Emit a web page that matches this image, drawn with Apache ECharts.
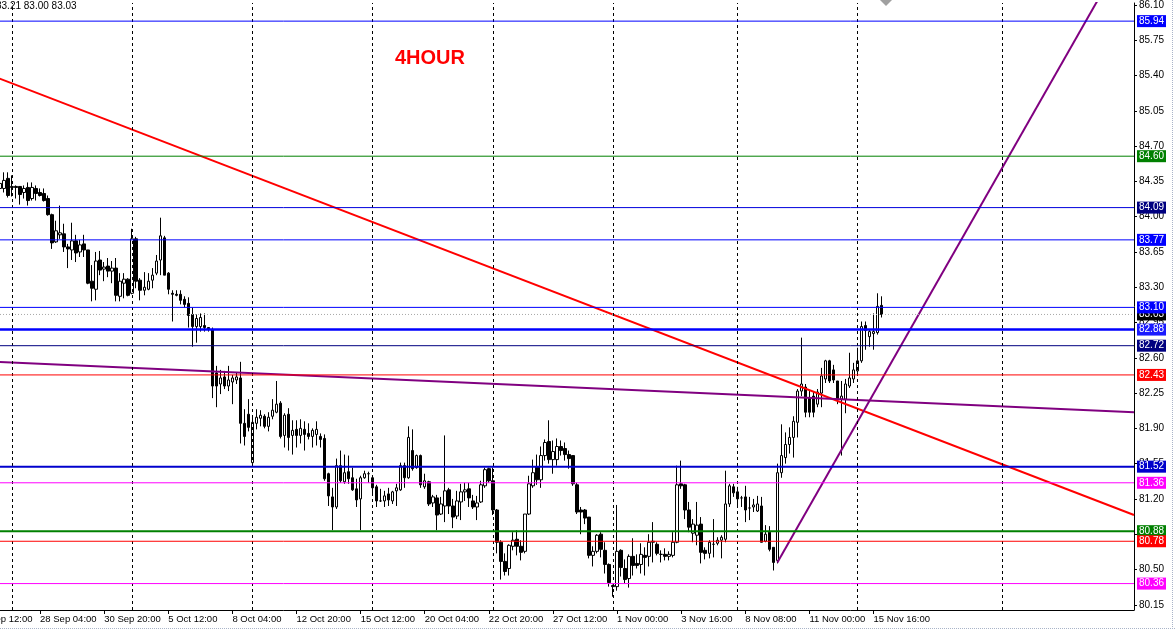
<!DOCTYPE html>
<html><head><meta charset="utf-8">
<script src="https://cdn.jsdelivr.net/npm/echarts@6/dist/echarts.min.js"></script>
<style>html,body{margin:0;padding:0;background:#fff;overflow:hidden}#c{width:1175px;height:630px}</style>
</head><body><div id="c"></div>
<script>
// ---------- data ----------
const title = '4HOUR';
const header = '83.21 83.00 83.03';
const tickLabels = ['23 Sep 12:00','28 Sep 04:00','30 Sep 20:00','5 Oct 12:00','8 Oct 04:00','12 Oct 20:00',
  '15 Oct 12:00','20 Oct 04:00','22 Oct 20:00','27 Oct 12:00','1 Nov 00:00','3 Nov 16:00','8 Nov 08:00',
  '11 Nov 00:00','15 Nov 16:00'];
const yTicks = [86.10,85.75,85.40,85.05,84.70,84.35,84.00,83.65,83.30,82.95,82.60,82.25,81.90,81.55,81.20,80.85,80.50,80.15];
const barSlots = 290;      // bar slots on the time axis (incl. empty future)
const firstBar = 6;        // slot of the first candle below (left edge of the view)
const open = [
84.28,84.28,84.38,84.29,84.30,84.30,84.24,84.29,84.18,84.28,
84.24,84.23,84.18,84.02,83.75,83.82,83.83,83.70,83.67,83.76,
83.65,83.73,83.67,83.36,83.28,83.57,83.48,83.51,83.46,83.49,
83.21,83.34,83.38,83.24,83.78,83.37,83.27,83.28,83.37,83.44,
83.57,83.79,83.44,83.24,83.23,83.23,83.18,83.14,83.03,82.91,
82.91,82.92,82.90,82.88,82.45,82.34,82.41,82.32,82.36,82.38,
82.40,81.95,82.04,81.56,81.95,82.00,82.02,81.92,82.02,82.06,
82.15,81.83,82.04,81.83,81.89,81.83,81.89,81.85,81.82,81.84,
81.82,81.80,81.45,81.22,81.12,81.53,81.37,81.47,81.41,81.30,
81.20,81.41,81.45,81.41,81.32,81.18,81.18,81.25,81.18,81.28,
81.29,81.53,81.41,81.68,81.51,81.63,81.32,81.37,81.16,81.21,
81.05,81.13,81.29,81.13,81.03,81.17,81.27,81.30,81.18,81.12,
81.17,81.33,81.50,81.38,81.09,80.77,80.58,80.51,80.73,80.80,
80.73,80.68,81.05,81.33,81.52,81.39,81.63,81.77,81.59,81.59,
81.72,81.70,81.64,81.63,81.34,81.09,81.09,81.02,80.64,80.68,
80.85,80.69,80.55,80.34,80.33,80.69,80.51,80.41,80.63,80.56,
80.55,80.64,80.63,80.77,80.75,80.65,80.65,80.63,80.64,80.77,
81.35,81.34,81.09,80.86,80.84,80.95,80.69,80.66,80.75,80.76,
80.79,80.80,81.15,81.32,81.27,81.21,81.22,81.11,81.12,81.08,
81.13,80.78,80.87,80.72,80.59,81.46,81.61,81.74,81.81,81.96,
82.27,82.31,82.20,82.22,82.14,82.25,82.39,82.57,82.48,82.37,
82.19,82.19,82.32,82.39,82.47,82.57,82.92,82.81,82.84,82.85,
83.12];
const high = [
84.49,84.44,84.44,84.41,84.31,84.30,84.31,84.34,84.34,84.31,
84.28,84.28,84.21,84.03,83.96,84.11,83.93,83.73,83.94,83.82,
83.77,83.82,83.67,83.52,83.65,83.66,83.55,83.59,83.56,83.59,
83.44,83.44,83.39,83.88,83.80,83.39,83.45,83.44,83.49,83.62,
83.99,83.81,83.45,83.27,83.27,83.27,83.21,83.20,83.10,83.03,
83.04,83.04,82.90,82.90,82.52,82.48,82.47,82.52,82.43,82.45,
82.56,82.09,82.19,82.02,82.09,82.08,82.04,82.06,82.19,82.37,
82.17,82.05,82.10,81.98,81.98,81.99,81.97,81.95,81.90,81.97,
81.85,81.84,81.46,81.31,81.60,81.68,81.64,81.63,81.51,81.40,
81.43,81.48,81.47,81.43,81.34,81.30,81.28,81.31,81.28,81.35,
81.56,81.56,81.92,81.89,81.64,81.64,81.45,81.38,81.24,81.24,
81.22,81.83,81.31,81.20,81.28,81.35,81.36,81.36,81.24,81.23,
81.38,81.51,81.51,81.51,81.10,80.79,80.66,80.75,80.87,80.89,
80.79,81.05,81.43,81.59,81.64,81.72,81.79,81.98,81.78,81.80,
81.78,81.76,81.68,81.63,81.36,81.12,81.10,81.02,80.73,80.85,
80.87,80.77,80.56,80.35,81.14,80.70,80.60,80.65,80.81,80.65,
80.76,80.72,80.85,80.97,80.77,80.69,80.71,80.68,80.87,81.53,
81.58,81.35,81.17,81.00,81.17,81.02,80.72,80.79,81.00,80.82,
80.84,81.48,81.35,81.35,81.32,81.23,81.33,81.22,81.20,81.23,
81.22,80.94,80.93,80.72,81.55,81.94,81.86,81.91,82.02,82.29,
82.80,82.34,82.27,82.26,82.29,82.50,82.58,82.58,82.53,82.37,
82.37,82.39,82.65,82.55,82.70,82.96,82.96,82.88,83.04,83.24,
83.21];
const low = [
84.12,84.24,84.19,84.20,84.18,84.12,84.18,84.11,84.16,84.16,
84.20,84.15,84.01,83.68,83.74,83.78,83.65,83.49,83.57,83.55,
83.60,83.60,83.33,83.16,83.17,83.42,83.36,83.40,83.34,83.16,
83.16,83.19,83.21,83.23,83.29,83.17,83.22,83.27,83.29,83.42,
83.42,83.42,83.23,82.96,83.21,83.13,83.10,82.90,82.71,82.75,
82.86,82.86,82.86,82.20,82.11,82.24,82.29,82.27,82.14,82.34,
81.75,81.73,81.87,81.53,81.89,81.92,81.90,81.87,81.99,82.05,
81.80,81.71,81.68,81.64,81.71,81.75,81.68,81.79,81.71,81.73,
81.71,81.38,81.13,80.89,81.10,81.36,81.35,81.35,81.28,81.12,
80.89,81.40,81.36,81.23,81.12,81.17,81.12,81.13,81.15,81.13,
81.28,81.31,81.40,81.48,81.50,81.31,81.30,81.13,81.12,80.89,
81.04,80.97,81.05,80.91,81.00,80.99,81.18,81.12,81.10,80.99,
81.16,81.31,81.36,81.04,80.66,80.40,80.44,80.44,80.69,80.64,
80.59,80.66,81.04,81.31,81.34,81.31,81.58,81.55,81.45,81.53,
81.63,81.58,81.50,81.33,81.05,80.85,80.95,80.61,80.53,80.66,
80.62,80.46,80.33,80.23,80.29,80.43,80.36,80.32,80.44,80.51,
80.46,80.44,80.53,80.57,80.64,80.57,80.59,80.59,80.62,80.76,
81.30,81.00,80.87,80.77,80.74,80.56,80.60,80.61,80.62,80.74,
80.61,80.77,81.12,81.22,81.12,81.12,80.97,80.99,81.07,81.07,
80.77,80.77,80.68,80.49,80.56,81.41,81.55,81.65,81.61,81.81,
82.22,82.01,82.01,82.01,82.11,82.11,82.35,82.35,82.35,82.14,
81.63,82.05,82.30,82.35,82.45,82.55,82.68,82.71,82.68,82.83,
83.00];
const close = [
84.33,84.36,84.21,84.30,84.29,84.22,84.28,84.16,84.29,84.23,
84.21,84.16,84.02,83.74,83.86,83.84,83.70,83.68,83.76,83.64,
83.72,83.67,83.34,83.29,83.56,83.47,83.50,83.46,83.49,83.22,
83.36,83.38,83.22,83.78,83.36,83.27,83.30,83.36,83.42,83.56,
83.81,83.42,83.28,83.23,83.22,83.17,83.13,83.02,82.91,82.99,
83.00,82.90,82.88,82.32,82.32,82.40,82.32,82.38,82.40,82.41,
81.95,81.82,81.91,81.96,82.01,82.03,81.92,82.01,82.08,82.14,
81.82,82.03,81.81,81.88,81.83,81.90,81.84,81.82,81.88,81.89,
81.79,81.40,81.23,81.12,81.53,81.38,81.46,81.40,81.29,81.19,
81.41,81.45,81.45,81.31,81.18,81.18,81.23,81.19,81.27,81.31,
81.53,81.41,81.81,81.50,81.63,81.34,81.38,81.15,81.22,81.04,
81.15,81.28,81.13,81.02,81.18,81.27,81.29,81.21,81.12,81.16,
81.34,81.49,81.38,81.09,80.77,80.58,80.48,80.74,80.79,80.73,
80.67,81.05,81.35,81.46,81.39,81.63,81.76,81.59,81.67,81.72,
81.68,81.64,81.60,81.35,81.07,81.07,81.01,80.64,80.68,80.84,
80.70,80.55,80.37,80.33,80.68,80.52,80.40,80.63,80.54,80.54,
80.65,80.62,80.77,80.78,80.66,80.65,80.63,80.65,80.77,81.34,
81.33,81.09,80.92,80.95,80.94,80.67,80.66,80.77,80.75,80.79,
80.82,81.15,81.33,81.26,81.20,81.21,81.09,81.11,81.14,81.15,
80.77,80.85,80.70,80.57,81.46,81.63,81.74,81.81,81.97,82.27,
82.34,82.06,82.06,82.06,82.26,82.42,82.57,82.37,82.38,82.19,
82.22,82.34,82.40,82.48,82.57,82.91,82.87,82.86,82.86,83.11,
83.03];
const levels = [85.94, 84.60, 84.09, 83.77, 83.10, 82.88, 82.72, 82.43, 81.52, 81.36, 80.88, 80.78, 80.36];
const bidPrice = 83.03;
const redTrend = [[0, 85.46], [289, 81.04]];
const purpleFlat = [[0, 82.57], [289, 82.06]];
const purpleRise = [[200, 80.57], [285, 86.50]];
const gridBars = [9, 39, 69, 99, 129, 159, 190, 220, 256];

// ---------- styles ----------
const FONT = '"Liberation Sans", Arial, sans-serif';
const levelLine = ['#0000ff','#008000','#0000dd','#0000ff','#0000ff','#0000ff','#000080','#ff0000','#0000cd','#ff00ff','#008000','#ff0000','#ff00ff'];
const levelBox  = ['#0000ff','#008000','#000080','#0000ff','#0000ff','#1a1aff','#000080','#ff0000','#0000cc','#ff00ff','#008000','#ff0000','#ff00ff'];
const levelWidth = [1,1,1,1,1,2.5,1,1,2,1,2,1,1];
const AXIS_Y = 610;

// ---------- build ----------
const cats = Array.from({length: barSlots}, (_, i) => 'b' + i);
const slotOf = name => Number(String(name).slice(1));
const isTickSlot = s => s % 16 === 0 && s / 16 < tickLabels.length;
const candles = cats.map((_, i) => {
  const k = i - firstBar;
  if (k < 0 || k >= open.length) return '-';
  return [open[k], close[k], low[k], high[k]];
});

function levelSeries(value, color, width, dash, box, z) {
  return {type: 'line', z: z, silent: true, symbol: 'none', clip: false,
    data: [[firstBar, value], [barSlots - 1, value]],
    lineStyle: {color: color, width: width, type: dash},
    endLabel: {show: true, distance: 3, formatter: () => value.toFixed(2),
      color: '#fff', backgroundColor: box, padding: [1, 2, 0, 2], fontSize: 10, lineHeight: 11, fontFamily: FONT}};
}
const series = [
  {type: 'line', data: [], z: 1, silent: true,
    markLine: {silent: true, symbol: 'none', animation: false, label: {show: false},
      lineStyle: {color: '#000', width: 1, type: [3, 3]},
      data: gridBars.map(b => ({xAxis: b}))}},
  {type: 'candlestick', data: candles, z: 2, silent: true, barWidth: 3,
    itemStyle: {color: '#fff', color0: '#000', borderColor: '#000', borderColor0: '#000', borderWidth: 1}},
  {type: 'line', data: redTrend, z: 3, silent: true, symbol: 'none', lineStyle: {color: '#ff0000', width: 2}},
  {type: 'line', data: purpleFlat, z: 3, silent: true, symbol: 'none', lineStyle: {color: '#800080', width: 2}},
  {type: 'line', data: purpleRise, z: 3, silent: true, symbol: 'none', lineStyle: {color: '#800080', width: 2}},
  levelSeries(bidPrice, '#a8a8a8', 1, [1, 2], '#000000', 4)
];
levels.forEach((v, i) => series.push(levelSeries(v, levelLine[i], levelWidth[i], 'solid', levelBox[i], 5)));

const chart = echarts.init(document.getElementById('c'), null, {renderer: 'canvas'});
chart.setOption({
  animation: false,
  backgroundColor: '#fff',
  grid: {left: 0, top: 0, width: 1134, height: AXIS_Y},
  xAxis: {
    type: 'category', data: cats, boundaryGap: false, min: firstBar,
    axisLine: {lineStyle: {color: '#000', width: 1}},
    axisTick: {length: 4, lineStyle: {color: '#000'}, interval: (i, v) => isTickSlot(slotOf(v))},
    axisLabel: {interval: (i, v) => isTickSlot(slotOf(v)),
      formatter: v => { const s = slotOf(v); return isTickSlot(s) ? tickLabels[s / 16] : ''; },
      align: 'left', margin: 4, color: '#000', fontSize: 9.5, fontFamily: FONT},
    splitLine: {show: false}
  },
  yAxis: {
    type: 'value', position: 'right', min: 80.098, max: 86.12, scale: true,
    axisLine: {show: true, lineStyle: {color: '#000'}},
    axisTick: {show: true, length: 3, customValues: yTicks, lineStyle: {color: '#000'}},
    axisLabel: {customValues: yTicks, formatter: v => v.toFixed(2), margin: 5, color: '#000', fontSize: 10, fontFamily: FONT},
    splitLine: {show: false}
  },
  graphic: [
    {type: 'text', left: 395, top: 48, style: {text: title, fill: '#ff0000', font: 'bold 20px "Liberation Sans", Arial'}},
    {type: 'text', x: -4, y: 1, style: {text: header, fill: '#000', font: '10px "Liberation Sans", Arial'}},
    {type: 'polygon', shape: {points: [[880, 0], [892, 0], [886, 6]]}, style: {fill: '#a0a0a0'}},
    {type: 'line', shape: {x1: 1172.5, y1: 0, x2: 1172.5, y2: 630}, style: {stroke: '#a9b4c8', lineDash: [1, 1]}},
    {type: 'line', shape: {x1: 0, y1: 628.5, x2: 1175, y2: 628.5}, style: {stroke: '#a9b4c8', lineDash: [1, 1]}}
  ],
  series: series
});
// first tick label lies left of the view: place it through the axis scale so it shows clipped
const x0 = chart.convertToPixel({xAxisIndex: 0}, 0);
if (isFinite(x0)) {
  chart.setOption({graphic: [{type: 'text', id: 'firstTick', x: x0, y: AXIS_Y + 4,
    style: {text: tickLabels[0], fill: '#000', font: '9.5px "Liberation Sans", Arial', verticalAlign: 'top', align: 'left'}}]});
}
</script></body></html>
